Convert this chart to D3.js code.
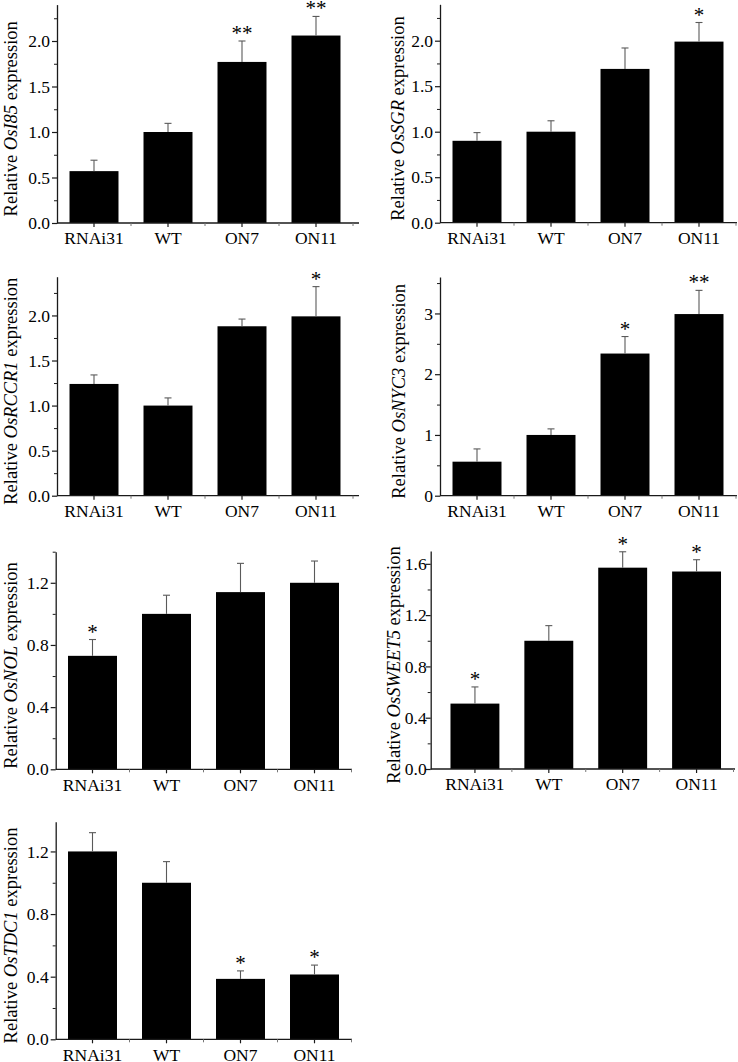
<!DOCTYPE html>
<html>
<head>
<meta charset="utf-8">
<script src="https://cdn.jsdelivr.net/npm/d3@7"></script>
<style>
  html, body { margin: 0; padding: 0; background: #fff; }
  svg { display: block; }
  text { font-family: "Liberation Serif", "Times New Roman", serif; fill: #000; }
</style>
</head>
<body>
<svg id="chart" width="738" height="1062"></svg>
<script>
// ---------- data ----------
const categories = ["RNAi31", "WT", "ON7", "ON11"];

const meanI85 = [0.57, 1.00, 1.77, 2.06];
const errI85  = [0.12, 0.095, 0.23, 0.21];
const sigI85  = ["", "", "**", "**"];

const meanSGR = [0.90, 1.00, 1.69, 1.99];
const errSGR  = [0.09, 0.12, 0.23, 0.21];
const sigSGR  = ["", "", "", "*"];

const meanRCCR1 = [1.24, 1.00, 1.88, 1.99];
const errRCCR1  = [0.10, 0.085, 0.08, 0.33];
const sigRCCR1  = ["", "", "", "*"];

const meanNYC3 = [0.56, 1.00, 2.34, 2.99];
const errNYC3  = [0.21, 0.10, 0.28, 0.39];
const sigNYC3  = ["", "", "*", "**"];

const meanNOL = [0.73, 1.00, 1.14, 1.20];
const errNOL  = [0.105, 0.12, 0.185, 0.14];
const sigNOL  = ["*", "", "", ""];

const meanSWEET5 = [0.51, 1.00, 1.57, 1.54];
const errSWEET5  = [0.13, 0.118, 0.124, 0.092];
const sigSWEET5  = ["*", "", "*", "*"];

const meanTDC1 = [1.20, 1.00, 0.386, 0.414];
const errTDC1  = [0.12, 0.135, 0.051, 0.06];
const sigTDC1  = ["", "", "*", "*"];

const ticks05 = [0, 0.5, 1.0, 1.5, 2.0];
const ticks1  = [0, 1, 2, 3];
const ticks04 = [0, 0.4, 0.8, 1.2];
const ticks16 = [0, 0.4, 0.8, 1.2, 1.6];

// ---------- layout ----------
const panels = [
  { gene: "OsI85",    mean: meanI85,    err: errI85,    sig: sigI85,    ticks: ticks05, minor: 0.25, fmt: ".1f", yMax: 2.4,
    axisX: 57,    base: 223,    top: 4.6,   band: [57, 353],    axisEnd: 359, titleX: 17, pad: 2 },
  { gene: "OsSGR",    mean: meanSGR,    err: errSGR,    sig: sigSGR,    ticks: ticks05, minor: 0.25, fmt: ".1f", yMax: 2.4,
    axisX: 440,   base: 222.7,  top: 4.3,   band: [440, 736],   axisEnd: 737, titleX: 404, pad: 2 },
  { gene: "OsRCCR1",  mean: meanRCCR1,  err: errRCCR1,  sig: sigRCCR1,  ticks: ticks05, minor: 0.25, fmt: ".1f", yMax: 2.43,
    axisX: 57,    base: 495.7,  top: 276.7, band: [57, 353],    axisEnd: 359, titleX: 17, pad: 2 },
  { gene: "OsNYC3",   mean: meanNYC3,   err: errNYC3,   sig: sigNYC3,   ticks: ticks1,  minor: 0.5,  fmt: "d",   yMax: 3.6,
    axisX: 440,   base: 495.7,  top: 277,   band: [440, 736],   axisEnd: 737, titleX: 405, pad: 2 },
  { gene: "OsNOL",    mean: meanNOL,    err: errNOL,    sig: sigNOL,    ticks: ticks04, minor: 0.2,  fmt: ".1f", yMax: 1.4,
    axisX: 55.7,  base: 769.3,  top: 551.7, band: [55.5, 351.5], axisEnd: 352, titleX: 17, pad: 2 },
  { gene: "OsSWEET5", mean: meanSWEET5, err: errSWEET5, sig: sigSWEET5, ticks: ticks16, minor: 0.2,  fmt: ".1f", yMax: 1.7,
    axisX: 430.7, base: 769,    top: 551,   band: [438, 733.5], axisEnd: 735, titleX: 400, pad: -1 },
  { gene: "OsTDC1",   mean: meanTDC1,   err: errTDC1,   sig: sigTDC1,   ticks: ticks04, minor: 0.2,  fmt: ".1f", yMax: 1.39,
    axisX: 55.7,  base: 1039.3, top: 821.7, band: [55.5, 351.5], axisEnd: 352, titleX: 17, pad: 2 }
];

const svg = d3.select("#chart");
const axisColor = "#1a1a1a";
const serif = "Liberation Serif, Times New Roman, serif";

panels.forEach(p => {
  const g = svg.append("g");
  const x = d3.scaleBand().domain(categories).range(p.band).paddingInner(0.338).paddingOuter(0.169);
  const y = d3.scaleLinear().domain([0, p.yMax]).range([p.base, p.top]);
  const rows = categories.map((c, i) => ({ c, v: p.mean[i], e: p.err[i], s: p.sig[i] }));

  // bars
  g.selectAll("rect.bar").data(rows).join("rect")
    .attr("class", "bar")
    .attr("x", d => x(d.c))
    .attr("width", x.bandwidth())
    .attr("y", d => y(d.v))
    .attr("height", d => y(0) - y(d.v))
    .attr("fill", "#000");

  // error bars (upper only)
  g.selectAll("line.err").data(rows).join("line")
    .attr("class", "err")
    .attr("x1", d => x(d.c) + x.bandwidth() / 2)
    .attr("x2", d => x(d.c) + x.bandwidth() / 2)
    .attr("y1", d => y(d.v))
    .attr("y2", d => y(d.v + d.e))
    .attr("stroke", "#5a5a5a").attr("stroke-width", 1.1);
  g.selectAll("line.cap").data(rows).join("line")
    .attr("class", "cap")
    .attr("x1", d => x(d.c) + x.bandwidth() / 2 - 3.5)
    .attr("x2", d => x(d.c) + x.bandwidth() / 2 + 3.5)
    .attr("y1", d => y(d.v + d.e))
    .attr("y2", d => y(d.v + d.e))
    .attr("stroke", "#5a5a5a").attr("stroke-width", 1.1);

  // significance stars
  g.selectAll("text.sig").data(rows.filter(d => d.s)).join("text")
    .attr("class", "sig")
    .attr("x", d => x(d.c) + x.bandwidth() / 2)
    .attr("y", d => y(d.v + d.e) - 1)
    .attr("text-anchor", "middle")
    .attr("font-size", 21)
    .text(d => d.s);

  // y axis: minor ticks
  const minorVals = d3.range(0, p.yMax + 1e-9, p.minor).filter(v => !p.ticks.some(t => Math.abs(t - v) < 1e-9));
  const yMinor = d3.axisLeft(y).tickValues(minorVals).tickSize(3).tickFormat("").tickSizeOuter(0);
  g.append("g").attr("transform", `translate(${p.axisX},0)`).call(yMinor)
    .call(s => s.select(".domain").remove())
    .call(s => s.selectAll("line").attr("stroke", axisColor).attr("stroke-width", 1));

  // y axis: major
  const yAxis = d3.axisLeft(y).tickValues(p.ticks).tickFormat(d3.format(p.fmt)).tickSize(5).tickPadding(p.pad).tickSizeOuter(0);
  g.append("g").attr("transform", `translate(${p.axisX},0)`).call(yAxis)
    .call(s => s.select(".domain").attr("stroke", axisColor).attr("stroke-width", 1.3))
    .call(s => s.selectAll("line").attr("stroke", axisColor).attr("stroke-width", 1.2))
    .call(s => s.selectAll("text").attr("font-size", 17.5).attr("font-family", serif).attr("fill", "#000"));

  // x axis line
  g.append("line")
    .attr("x1", p.axisX).attr("x2", p.axisEnd)
    .attr("y1", p.base).attr("y2", p.base)
    .attr("stroke", axisColor).attr("stroke-width", 1.3);

  // x minor ticks at band boundaries
  const step = x.step();
  const bounds = categories.map(c => x(c) + x.bandwidth() / 2 + step / 2);
  g.selectAll("line.xminor").data(bounds).join("line")
    .attr("class", "xminor")
    .attr("x1", d => d).attr("x2", d => d)
    .attr("y1", p.base).attr("y2", p.base + 3)
    .attr("stroke", "#777").attr("stroke-width", 1);

  // x axis major ticks + labels
  const xAxis = d3.axisBottom(x).tickSize(4).tickPadding(5).tickSizeOuter(0);
  g.append("g").attr("transform", `translate(0,${p.base})`).call(xAxis)
    .call(s => s.select(".domain").remove())
    .call(s => s.selectAll("line").attr("stroke", axisColor).attr("stroke-width", 1.2))
    .call(s => s.selectAll("text").attr("font-size", 17.5).attr("font-family", serif).attr("fill", "#000"));

  // y title
  const cy = (p.base + p.top) / 2 + 5;
  const t = g.append("text")
    .attr("transform", `translate(${p.titleX},${cy}) rotate(-90)`)
    .attr("text-anchor", "middle")
    .attr("font-size", 18.5);
  t.append("tspan").text("Relative ");
  t.append("tspan").attr("font-style", "italic").text(p.gene);
  t.append("tspan").text(" expression");
});
</script>
</body>
</html>
